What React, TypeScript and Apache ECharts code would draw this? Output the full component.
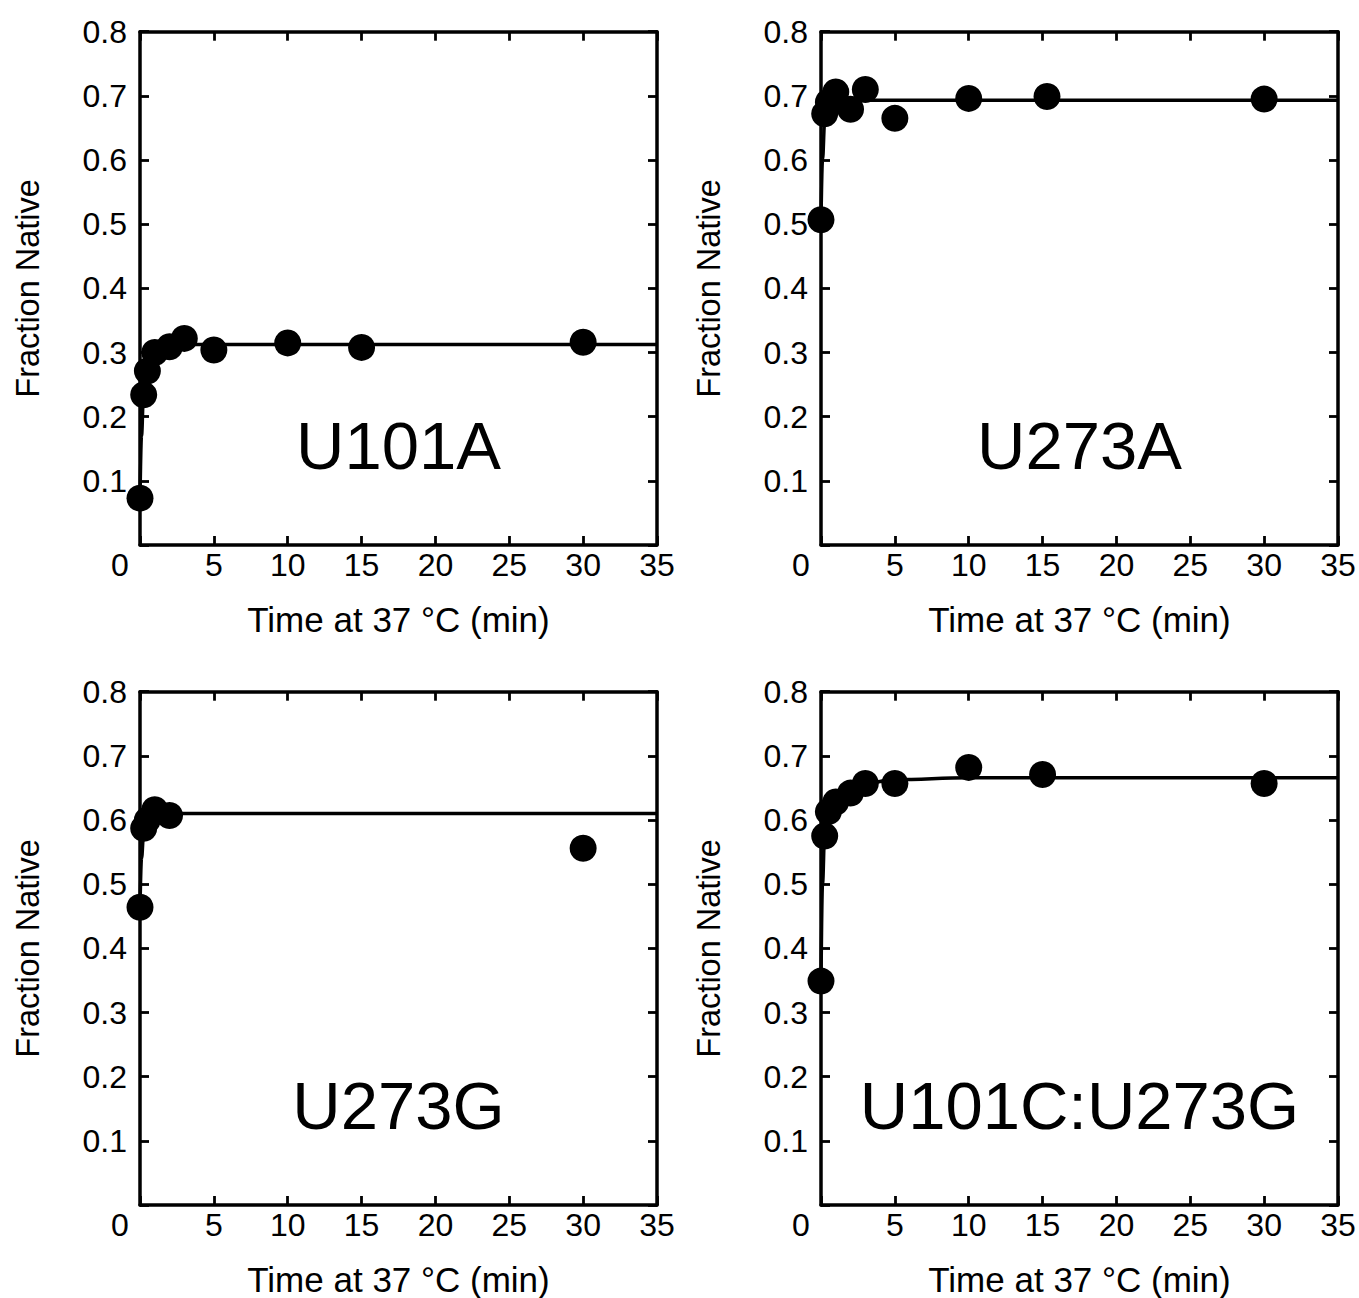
import React, { useEffect, useRef } from "react";
import * as echarts from "echarts";

// ---- Data ----
const xTicks = [0, 5, 10, 15, 20, 25, 30, 35];
const yTicks = [0, 0.1, 0.2, 0.3, 0.4, 0.5, 0.6, 0.7, 0.8];

const timesU101A = [0, 0.25, 0.5, 1, 2, 3, 5, 10, 15, 30];
const valuesU101A = [0.073, 0.234, 0.271, 0.3, 0.309, 0.322, 0.304, 0.315, 0.308, 0.316];
const fitTimesU101A = [0, 0.1, 0.25, 0.5, 1, 2, 3, 5, 35];
const fitValuesU101A = [0.073, 0.17, 0.245, 0.285, 0.303, 0.311, 0.3125, 0.3126, 0.3126];

const timesU273A = [0, 0.25, 0.5, 1, 2, 3, 5, 10, 15.3, 30];
const valuesU273A = [0.507, 0.672, 0.69, 0.706, 0.679, 0.71, 0.665, 0.696, 0.699, 0.695];
const fitTimesU273A = [0, 0.1, 0.25, 0.5, 1, 2, 35];
const fitValuesU273A = [0.507, 0.6, 0.66, 0.685, 0.692, 0.693, 0.693];

const timesU273G = [0, 0.25, 0.5, 1, 2, 30];
const valuesU273G = [0.464, 0.587, 0.6, 0.616, 0.607, 0.556];
const fitTimesU273G = [0, 0.1, 0.25, 0.5, 1, 2, 35];
const fitValuesU273G = [0.464, 0.54, 0.58, 0.603, 0.609, 0.61, 0.61];

const timesU101CU273G = [0, 0.25, 0.5, 1, 2, 3, 5, 10, 15, 30];
const valuesU101CU273G = [0.349, 0.575, 0.613, 0.628, 0.642, 0.657, 0.657, 0.682, 0.671, 0.657];
const fitTimesU101CU273G = [0, 0.1, 0.25, 0.5, 1, 2, 3, 5, 10, 35];
const fitValuesU101CU273G = [0.349, 0.5, 0.58, 0.61, 0.628, 0.648, 0.657, 0.663, 0.666, 0.666];

const panelNames = ["U101A", "U273A", "U273G", "U101C:U273G"];

const FONT = "'Liberation Sans', Arial, Helvetica, sans-serif";

const zip = (a: number[], b: number[]) => a.map((x, i) => [x, b[i]]);

const panels = [
  { name: panelNames[0], t: timesU101A, v: valuesU101A, ft: fitTimesU101A, fv: fitValuesU101A, left: 140, top: 31.7 },
  { name: panelNames[1], t: timesU273A, v: valuesU273A, ft: fitTimesU273A, fv: fitValuesU273A, left: 821, top: 31.7 },
  { name: panelNames[2], t: timesU273G, v: valuesU273G, ft: fitTimesU273G, fv: fitValuesU273G, left: 140, top: 691.7 },
  { name: panelNames[3], t: timesU101CU273G, v: valuesU101CU273G, ft: fitTimesU101CU273G, fv: fitValuesU101CU273G, left: 821, top: 691.7 },
];

const W = 517;
const H = 513.3;

function buildOption() {
  const grid: any[] = [];
  const xAxis: any[] = [];
  const yAxis: any[] = [];
  const series: any[] = [];
  const graphic: any[] = [];
  const lineStyle = { color: "#000", width: 3.5 };
  const tick = { inside: true, length: 9, lineStyle: { color: "#000", width: 2.8 } };
  const xMin = xTicks[0];
  const xMax = xTicks[xTicks.length - 1];
  const xInt = xTicks[1] - xTicks[0];
  const yMin = yTicks[0];
  const yMax = yTicks[yTicks.length - 1];
  const yInt = 0.1;

  panels.forEach((p, i) => {
    grid.push({ left: p.left, top: p.top, width: W, height: H, containLabel: false });
    const xBase = {
      gridIndex: i,
      type: "value",
      min: xMin,
      max: xMax,
      interval: xInt,
      splitLine: { show: false },
      axisLine: { show: true, onZero: false, lineStyle },
      axisTick: tick,
    };
    xAxis.push({
      ...xBase,
      position: "bottom",
      axisLabel: {
        margin: 4,
        fontSize: 32,
        color: "#000",
        fontFamily: FONT,
        formatter: (v: number) => (v === 0 ? "{z|0}" : String(v)),
        rich: { z: { padding: [0, 40, 0, 0], fontSize: 32, color: "#000", fontFamily: FONT } },
      },
      name: "Time at 37 °C (min)",
      nameLocation: "middle",
      nameGap: 57,
      nameTextStyle: { fontSize: 35, color: "#000", fontFamily: FONT },
    });
    xAxis.push({ ...xBase, position: "top", axisLabel: { show: false } });
    const yBase = {
      gridIndex: i,
      type: "value",
      min: yMin,
      max: yMax,
      interval: yInt,
      splitLine: { show: false },
      axisLine: { show: true, onZero: false, lineStyle },
      axisTick: tick,
    };
    yAxis.push({
      ...yBase,
      position: "left",
      axisLabel: {
        margin: 13,
        fontSize: 32,
        color: "#000",
        fontFamily: FONT,
        formatter: (v: number) => (Math.abs(v) < 1e-9 ? "" : v.toFixed(1)),
      },
      name: "Fraction Native",
      nameLocation: "middle",
      nameGap: 96,
      nameTextStyle: { fontSize: 32.5, color: "#000", fontFamily: FONT },
    });
    yAxis.push({ ...yBase, position: "right", axisLabel: { show: false } });

    series.push({
      type: "line",
      xAxisIndex: i * 2,
      yAxisIndex: i * 2,
      data: zip(p.ft, p.fv),
      showSymbol: false,
      smooth: 0.4,
      smoothMonotone: "x",
      lineStyle: { color: "#000", width: 3.5 },
      z: 2,
    });
    series.push({
      type: "scatter",
      xAxisIndex: i * 2,
      yAxisIndex: i * 2,
      data: zip(p.t, p.v),
      symbolSize: 27,
      itemStyle: { color: "#000", opacity: 1 },
      clip: false,
      z: 3,
    });
    graphic.push({
      type: "text",
      x: p.left + W / 2,
      y: p.top + 414,
      style: {
        text: p.name,
        fontSize: 67,
        fontFamily: FONT,
        fill: "#000",
        textAlign: "center",
        textVerticalAlign: "middle",
      },
      z: 10,
    });
  });

  return { animation: false, backgroundColor: "#fff", grid, xAxis, yAxis, series, graphic };
}

export default function App() {
  const ref = useRef<HTMLDivElement>(null);
  useEffect(() => {
    if (!ref.current) return;
    const chart = echarts.init(ref.current, undefined, { renderer: "svg" });
    chart.setOption(buildOption() as any);
    return () => chart.dispose();
  }, []);
  return (
    <div
      ref={ref}
      style={{ position: "absolute", left: 0, top: 0, width: 1359, height: 1298, background: "#fff" }}
    />
  );
}
